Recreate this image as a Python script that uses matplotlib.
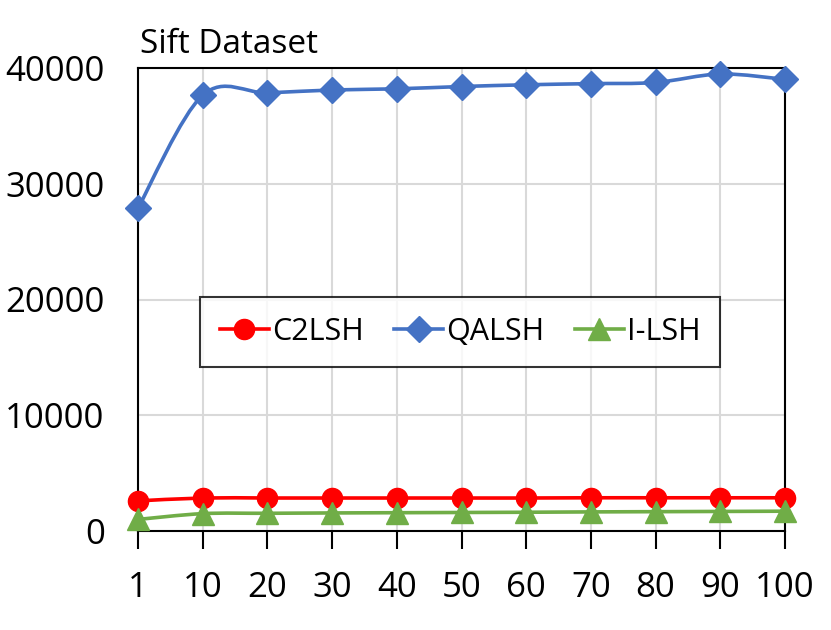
import matplotlib
matplotlib.use('Agg')
import matplotlib.pyplot as plt
from matplotlib.path import Path
from matplotlib.patches import PathPatch
from matplotlib.lines import Line2D
import numpy as np

plt.rcParams['font.family'] = ['Open Sans', 'DejaVu Sans']

# ---- data ----
k_labels = ['1', '10', '20', '30', '40', '50', '60', '70', '80', '90', '100']
c2lsh = [2600, 2850, 2850, 2850, 2850, 2850, 2850, 2870, 2870, 2870, 2870]
qalsh = [27900, 37650, 37850, 38100, 38200, 38400, 38550, 38650, 38750, 39480, 39020]
ilsh = [1000, 1500, 1530, 1560, 1580, 1600, 1620, 1650, 1670, 1690, 1710]

series = [
    ('C2LSH', c2lsh, '#FF0000', 'o', 14.5),
    ('QALSH', qalsh, '#4472C4', 'D', 13),
    ('I-LSH', ilsh, '#70AD47', '^', 15.5),
]


def smooth_path(xs, ys):
    # Excel-style smoothed line: cubic bezier through each point
    pts = np.column_stack([xs, ys]).astype(float)
    n = len(pts)
    verts = [pts[0]]
    codes = [Path.MOVETO]
    for i in range(n - 1):
        p_prev = pts[i - 1] if i > 0 else pts[i]
        p_next2 = pts[i + 2] if i + 2 < n else pts[i + 1]
        c1 = pts[i] + (pts[i + 1] - p_prev) / 6.0
        c2 = pts[i + 1] - (p_next2 - pts[i]) / 6.0
        verts += [c1, c2, pts[i + 1]]
        codes += [Path.CURVE4] * 3
    return Path(verts, codes)


fig = plt.figure(figsize=(8.31, 6.30), dpi=100)
ax = fig.add_axes([138 / 831, 1 - 531 / 630, 647 / 831, 463 / 630])

x = np.arange(len(k_labels))
handles = []
for name, vals, color, marker, ms in series:
    patch = PathPatch(smooth_path(x, vals), facecolor='none', edgecolor=color,
                      lw=2.6, zorder=3, capstyle='round', joinstyle='round')
    ax.add_patch(patch)
    ax.plot(x, vals, linestyle='none', marker=marker, markersize=ms,
            color=color, markeredgecolor=color, zorder=4, clip_on=False)
    handles.append(Line2D([0], [0], color=color, lw=2.6, marker=marker,
                          markersize=ms, label=name))

ax.set_xlim(0, len(k_labels) - 1)
ax.set_ylim(0, 40000)
ax.set_xticks(x)
ax.set_xticklabels(k_labels)
ax.set_yticks([0, 10000, 20000, 30000, 40000])
ax.tick_params(axis='x', direction='out', length=13, width=1.5, labelsize=25, pad=16)
ax.tick_params(axis='y', length=0, labelsize=25, pad=24)
ax.grid(True, color='#D9D9D9', lw=1.5, zorder=0)
ax.set_axisbelow(True)
for sp in ax.spines.values():
    sp.set_linewidth(1.5)
    sp.set_color('black')

leg = ax.legend(handles=handles, loc='center', bbox_to_anchor=(0.498, 0.43),
                ncol=3, fontsize=22, frameon=True, fancybox=False,
                edgecolor='black', handlelength=1.6, handletextpad=0.1,
                columnspacing=1.0, borderpad=0.65)
leg.get_frame().set_linewidth(1.5)
leg.set_zorder(5)

fig.text(140 / 831, 1 - 53 / 630, 'Sift Dataset', fontsize=24, va='baseline', ha='left')

fig.savefig('out.png', dpi=100)
